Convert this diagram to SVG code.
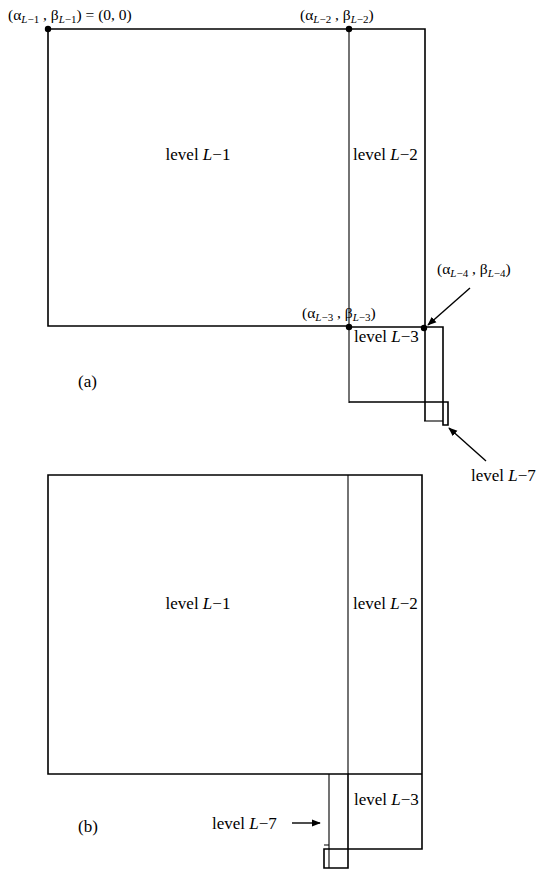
<svg xmlns="http://www.w3.org/2000/svg" width="538" height="869" viewBox="0 0 538 869">
<defs>
<marker id="ah" viewBox="0 0 10 10" refX="9" refY="5" markerWidth="9" markerHeight="9" markerUnits="userSpaceOnUse" orient="auto">
<path d="M0,1 L10,5 L0,9 z" fill="#000"/>
</marker>
</defs>
<style>
.o{fill:none;stroke:#000;stroke-width:1.6}
.i{fill:none;stroke:#000;stroke-width:1.1}
.a{fill:none;stroke:#000;stroke-width:1.4;marker-end:url(#ah)}
.t{font-family:"Liberation Serif","Times New Roman",serif;font-size:17px;fill:#000}
.s{font-family:"Liberation Serif","Times New Roman",serif;font-size:15.5px;fill:#000}
.it{font-style:italic}
.d{fill:#000}
</style>
<rect width="538" height="869" fill="#fff"/>

<g id="panel-a">
<g id="a-L1"><path class="o" d="M48,29 H425 V421 M48,29 V326 H349"/><text class="t" x="198" y="160" text-anchor="middle">level <tspan class="it">L</tspan>−1</text></g>
<g id="a-L2"><path class="i" d="M349,29 V403"/><text class="t" x="353" y="160">level <tspan class="it">L</tspan>−2</text></g>
<g id="a-L3"><path class="o" d="M349,327 H443 V425 H448 V402 H349"/><text class="t" x="354" y="342">level <tspan class="it">L</tspan>−3</text></g>
<g id="a-L4"><path class="i" d="M424,421 H443"/></g>
<g id="a-points">
<circle class="d" cx="48" cy="29" r="3.2"/>
<circle class="d" cx="349" cy="29" r="3.2"/>
<circle class="d" cx="349" cy="327" r="3.2"/>
<circle class="d" cx="424" cy="328" r="3.2"/>
<text class="s" x="8" y="20">(α<tspan class="it" font-size="11" dy="3">L</tspan><tspan font-size="11">−1</tspan><tspan dy="-3"> , β</tspan><tspan class="it" font-size="11" dy="3">L</tspan><tspan font-size="11">−1</tspan><tspan dy="-3">) = (0, 0)</tspan></text>
<text class="s" x="300" y="20">(α<tspan class="it" font-size="11" dy="3">L</tspan><tspan font-size="11">−2</tspan><tspan dy="-3"> , β</tspan><tspan class="it" font-size="11" dy="3">L</tspan><tspan font-size="11">−2</tspan><tspan dy="-3">)</tspan></text>
<text class="s" x="302" y="318">(α<tspan class="it" font-size="11" dy="3">L</tspan><tspan font-size="11">−3</tspan><tspan dy="-3"> , β</tspan><tspan class="it" font-size="11" dy="3">L</tspan><tspan font-size="11">−3</tspan><tspan dy="-3">)</tspan></text>
<text class="s" x="437" y="274">(α<tspan class="it" font-size="11" dy="3">L</tspan><tspan font-size="11">−4</tspan><tspan dy="-3"> , β</tspan><tspan class="it" font-size="11" dy="3">L</tspan><tspan font-size="11">−4</tspan><tspan dy="-3">)</tspan></text>
</g>
<text class="t" x="78" y="387">(a)</text>
<text class="t" x="471" y="481">level <tspan class="it">L</tspan>−7</text>
</g>

<g id="panel-b">
<g id="b-L1"><path class="o" d="M48,475 H422 V849 H324 V868 H348 V774 H48 Z"/><text class="t" x="198" y="609" text-anchor="middle">level <tspan class="it">L</tspan>−1</text></g>
<g id="b-L2"><path class="i" d="M348,475 V774"/><text class="t" x="353" y="609">level <tspan class="it">L</tspan>−2</text></g>
<g id="b-L3"><path class="o" d="M348,774 H422"/><text class="t" x="354" y="805">level <tspan class="it">L</tspan>−3</text></g>
<g id="b-L4"><path class="i" d="M329,774 V868 M324,845 H329"/></g>
<text class="t" x="78" y="832">(b)</text>
<text class="t" x="212" y="829">level <tspan class="it">L</tspan>−7</text>
</g>

<g id="connectors">
<path class="a" d="M470,288 L428,325"/>
<path class="a" d="M486,461 L449,428"/>
<path class="a" d="M292,823 H320"/>
</g>
</svg>
